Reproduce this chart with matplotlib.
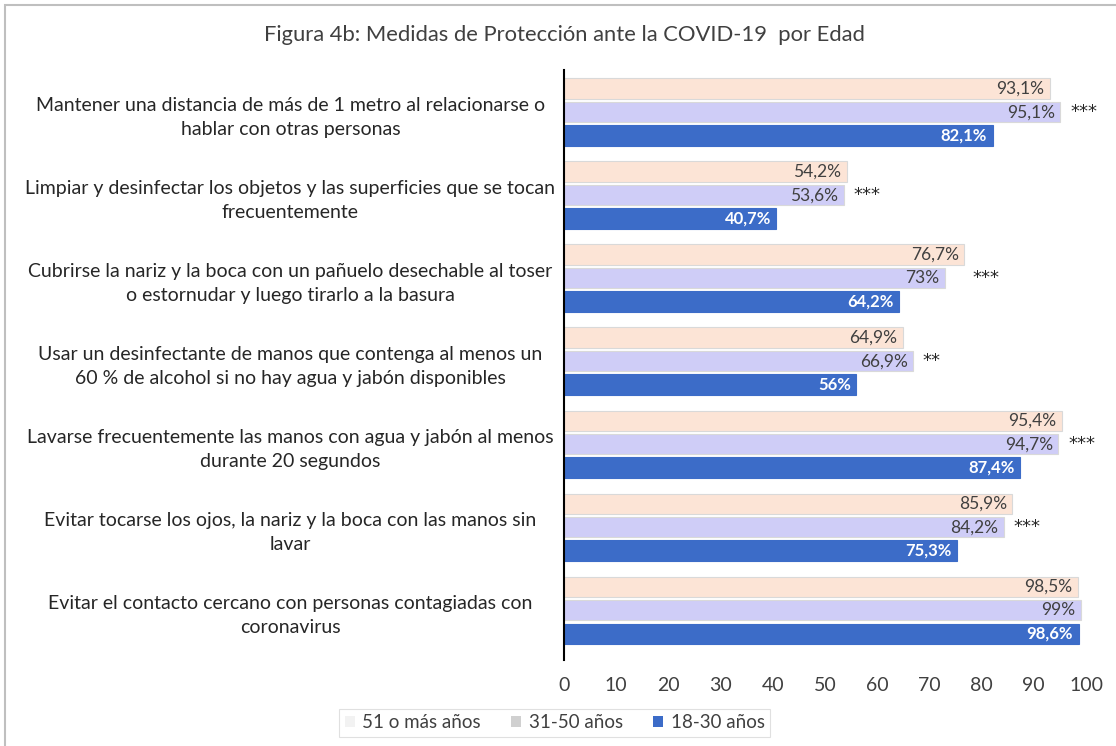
import matplotlib.pyplot as plt
import numpy as np
from matplotlib.patches import Rectangle, Patch

plt.rcParams['font.family'] = ['Lato', 'DejaVu Sans']

categories = [
    "Mantener una distancia de más de 1 metro al relacionarse o\nhablar con otras personas",
    "Limpiar y desinfectar los objetos y las superficies que se tocan\nfrecuentemente",
    "Cubrirse la nariz y la boca con un pañuelo desechable al toser\no estornudar y luego tirarlo a la basura",
    "Usar un desinfectante de manos que contenga al menos un\n60 % de alcohol si no hay agua y jabón disponibles",
    "Lavarse frecuentemente las manos con agua y jabón al menos\ndurante 20 segundos",
    "Evitar tocarse los ojos, la nariz y la boca con las manos sin\nlavar",
    "Evitar el contacto cercano con personas contagiadas con\ncoronavirus",
]
age_51 = [93.1, 54.2, 76.7, 64.9, 95.4, 85.9, 98.5]
age_31 = [95.1, 53.6, 73.0, 66.9, 94.7, 84.2, 99.0]
age_18 = [82.1, 40.7, 64.2, 56.0, 87.4, 75.3, 98.6]
stars = ["***", "***", "***", "**", "***", "***", ""]
star_gap_pts = [7, 7, 20, 7, 7, 7, 0]
series_names = ["51 o más años", "31-50 años", "18-30 años"]
xticks = list(range(0, 101, 10))

def fmt(v):
    s = f"{v:.1f}".replace(".", ",")
    if s.endswith(",0"):
        s = s[:-2]
    return s + "%"

fig = plt.figure(figsize=(11.16, 7.46), dpi=100)
fig.patches.append(Rectangle((0.0045, -0.05), 1.1, 1.043, transform=fig.transFigure,
                             fill=False, edgecolor='#BFBFBF', linewidth=1.5))
ax = fig.add_axes([0.5054, 0.1153, 0.4677, 0.7907])

n = len(categories)
centers = np.arange(n)[::-1].astype(float)
h = 0.245
step = 0.283
colors = ['#FCE4D6', '#CFCDF7', '#3C6CC8']
edges = ['#D9D9D9', '#D9D9D9', '#3C6CC8']
series = [age_51, age_31, age_18]
offsets = [step, 0, -step]
for vals, off, c, ec in zip(series, offsets, colors, edges):
    bars = ax.barh(centers + off, vals, height=h, color=c, edgecolor=ec, linewidth=0.8)
    for b, v in zip(bars, vals):
        if c == colors[2]:
            ax.annotate(fmt(v), (v, b.get_y() + h / 2), xytext=(-4, 0), textcoords='offset points',
                        ha='right', va='center', fontsize=12, color='white', fontweight='bold')
        else:
            ax.annotate(fmt(v), (v, b.get_y() + h / 2), xytext=(-4, 0), textcoords='offset points',
                        ha='right', va='center', fontsize=12.5, color='#404040')

for y, v, s, g in zip(centers, age_31, stars, star_gap_pts):
    if s:
        ax.annotate(s, (v, y), xytext=(g, 0), textcoords='offset points',
                    ha='left', va='center', fontsize=13, color='#262626',
                    family='DejaVu Sans')

ax.set_xlim(0, 100)
ax.set_ylim(-0.60, n - 0.494)
ax.set_xticks(xticks)
ax.set_xticklabels([str(t) for t in xticks], fontsize=14, color='#404040')
ax.set_yticks(centers)
ax.set_yticklabels(categories, fontsize=14, color='#262626', ha='center',
                   multialignment='center', linespacing=1.5)
ax.tick_params(axis='y', length=0, pad=197)
ax.tick_params(axis='x', length=0, pad=12)
for sp in ['top', 'right', 'bottom']:
    ax.spines[sp].set_visible(False)
ax.spines['left'].set_color('#000000')
ax.spines['left'].set_linewidth(1.5)

fig.text(0.506, 0.953, "Figura 4b: Medidas de Protección ante la COVID-19  por Edad",
         ha='center', va='center', fontsize=15.8, color='#404040')

handles = [Patch(facecolor='#F2F2F2', edgecolor='none'),
           Patch(facecolor='#D0D0D0', edgecolor='none'),
           Patch(facecolor='#3C6CC8', edgecolor='none')]
leg = fig.legend(handles, series_names, loc='center', bbox_to_anchor=(0.497, 0.031), ncol=3,
                 fontsize=13.5, frameon=True, handlelength=0.55, handleheight=0.55,
                 handletextpad=0.4, columnspacing=1.6, borderpad=0.3)
leg.get_frame().set_edgecolor('#D9D9D9')
leg.get_frame().set_linewidth(0.8)
leg.get_frame().set_boxstyle('square', pad=0)
for t in leg.get_texts():
    t.set_color('#404040')

fig.savefig('out.png', dpi=100)
